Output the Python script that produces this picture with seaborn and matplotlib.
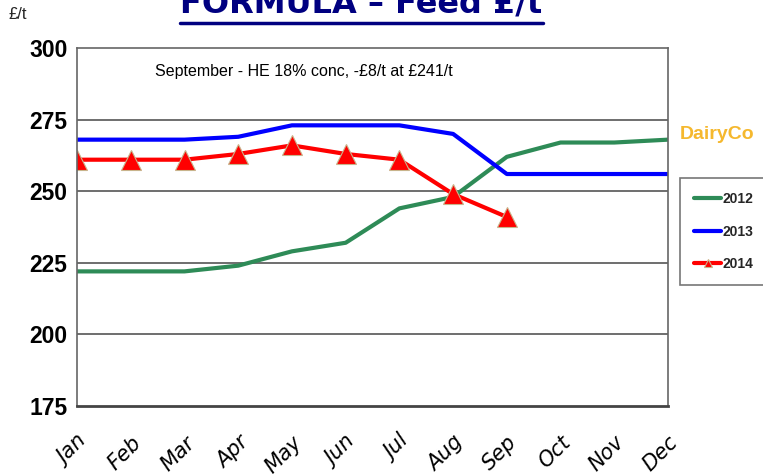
import pandas as pd
import numpy as np
import matplotlib.pyplot as plt
import seaborn as sns
from matplotlib.lines import Line2D

#data
months = ['Jan', 'Feb', 'Mar', 'Apr', 'May', 'Jun', 'Jul', 'Aug', 'Sep', 'Oct', 'Nov', 'Dec']
y2012 = [222, 222, 222, 224, 229, 232, 244, 248, 262, 267, 267, 268]
y2013 = [268, 268, 268, 269, 273, 273, 273, 270, 256, 256, 256, 256]
y2014 = [261, 261, 261, 263, 266, 263, 261, 249, 241]
yticks = [175, 200, 225, 250, 275, 300]

sns.set_style("white")
lib = ['Liberation Sans', 'DejaVu Sans']

fig = plt.figure(figsize=(7.63, 4.74), dpi=100)
ax = fig.add_axes([0.101, 0.1435, 0.7745, 0.7552])

#grid
for v in [200, 225, 250, 275]:
    ax.axhline(v, color='#555555', lw=1.2, zorder=0)

x12 = np.arange(len(y2012))
x14 = np.arange(len(y2014))
sns.lineplot(x=x12, y=y2012, ax=ax, color='#2E8B57', lw=3, label='2012')
sns.lineplot(x=x12, y=y2013, ax=ax, color='#0000FF', lw=3, label='2013')
sns.lineplot(x=x14, y=y2014, ax=ax, color='#FF0000', lw=3, marker='^',
             markersize=15, markeredgecolor='#C8B48C', markeredgewidth=0.8, label='2014')

ax.set_xlim(0, 11)
ax.set_ylim(175, 300)
ax.set_yticks(yticks)
ax.set_yticklabels([str(t) for t in yticks], fontsize=16.5, fontweight='bold',
                   family=lib, color='black')
ax.set_xticks(range(12))
ax.set_xticklabels(months, rotation=45, fontsize=15, fontstyle='italic',
                   ha='right', va='top', rotation_mode='anchor', color='black')
ax.tick_params(axis='x', direction='out', length=7, width=1, color='#333333', pad=12)
ax.tick_params(axis='y', length=0, pad=7)
for s in ax.spines.values():
    s.set_color('#666666')
    s.set_linewidth(1.2)
ax.spines['bottom'].set_linewidth(2)
ax.spines['bottom'].set_color('#444444')

ax.text(0.383, 0.935, 'September - HE 18% conc, -£8/t at £241/t', transform=ax.transAxes,
        ha='center', va='center', fontsize=11.5, color='black', family=lib)

#legend
leg = ax.legend(loc='upper left', bbox_to_anchor=(1.02, 0.637), frameon=True,
                handlelength=2.0, labelspacing=1.35, borderpad=1.0, borderaxespad=0,
                handletextpad=0.1, prop={'weight': 'bold', 'size': 10, 'family': lib})
leg.get_frame().set_edgecolor('#555555')
leg.get_frame().set_linewidth(1.2)
leg.get_frame().set_boxstyle('square', pad=0)
for h in leg.get_lines():
    h.set_markersize(6)

#header
fig.text(0.473, 0.958, 'FORMULA – Feed £/t', ha='center', va='bottom',
         fontsize=23, fontweight='bold', color='#000080')
fig.add_artist(Line2D([0.236, 0.712], [0.9525, 0.9525], color='#000080', lw=2.5))
fig.text(0.011, 0.97, '£/t', ha='left', va='center', fontsize=12, family=lib)
fig.text(0.94, 0.717, 'DairyCo', ha='center', va='center', fontsize=14,
         fontweight='bold', color='#F5B82E', family=lib)

plt.savefig("out.png", dpi=100)
